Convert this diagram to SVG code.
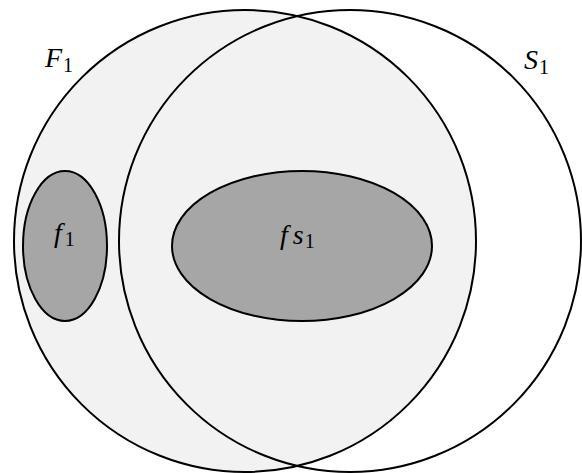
<svg xmlns="http://www.w3.org/2000/svg" width="582" height="473" viewBox="0 0 582 473">
<style>
.set{stroke:#000;stroke-width:2}
.lbl{font-family:"Liberation Serif","DejaVu Serif",serif;font-style:italic;font-size:28px;fill:#000}
.sub{font-style:normal;font-size:20px}
</style>
<rect width="582" height="473" fill="#fff"/>
<g id="F1">
<circle class="set" cx="245" cy="241" r="231" fill="#f2f2f2"/>
<text class="lbl" x="45" y="67">F<tspan class="sub" dx="1" dy="5">1</tspan></text>
</g>
<g id="S1">
<circle class="set" cx="350" cy="241" r="231" fill="none"/>
<text class="lbl" x="524" y="69">S<tspan class="sub" dx="1" dy="5">1</tspan></text>
</g>
<g id="f1">
<ellipse class="set" cx="65" cy="246" rx="42" ry="75" fill="#a6a6a6"/>
<text class="lbl" x="54" y="242">f<tspan class="sub" dx="3" dy="4">1</tspan></text>
</g>
<g id="fs1">
<ellipse class="set" cx="302" cy="246" rx="130" ry="75" fill="#a6a6a6"/>
<text class="lbl" x="280" y="244">f<tspan dx="5">s</tspan><tspan class="sub" dx="1" dy="4">1</tspan></text>
</g>
<g id="connectors"/>
</svg>
